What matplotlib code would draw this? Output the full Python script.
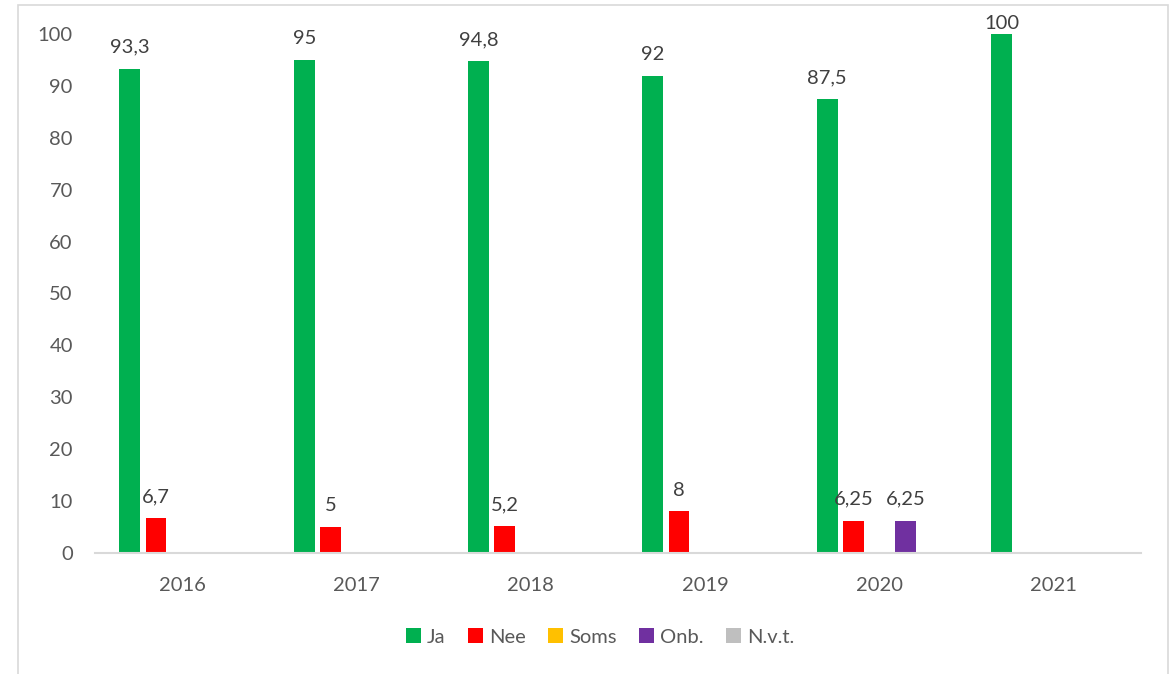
import matplotlib
matplotlib.use("Agg")
import matplotlib.pyplot as plt
from matplotlib.patches import Rectangle
import numpy as np

# data
years = ["2016", "2017", "2018", "2019", "2020", "2021"]
series = ["Ja", "Nee", "Soms", "Onb.", "N.v.t."]
ja = [93.3, 95, 94.8, 92, 87.5, 100]
nee = [6.7, 5, 5.2, 8, 6.25, 0]
soms = [0, 0, 0, 0, 0, 0]
onb = [0, 0, 0, 0, 6.25, 0]
nvt = [0, 0, 0, 0, 0, 0]
colors = ["#00b050", "#ff0000", "#ffc000", "#7030a0", "#bfbfbf"]

plt.rcParams['font.family'] = ['Lato', 'DejaVu Sans']

fig = plt.figure(figsize=(11.71, 6.74), dpi=100)
W, H = 1171, 674
ax = fig.add_axes([95 / W, 1 - 553 / H, (1141 - 95) / W, (553 - 34) / H])

x = np.arange(len(years))
step = 0.15
width = 0.12
fs = 14.5
for i, (name, vals) in enumerate(zip(series, [ja, nee, soms, onb, nvt])):
    pos = x + (i - 2) * step
    ax.bar(pos, vals, width, color=colors[i], label=name, zorder=2)
    for p, v in zip(pos, vals):
        if v > 0:
            txt = ("%g" % v).replace(".", ",")
            ax.text(p, min(v + 2.5, 100.4), txt, ha="center", va="bottom",
                    fontsize=fs, color="#404040", zorder=3)

ax.set_xlim(-0.5, len(years) - 0.5)
ax.set_ylim(0, 100)
ax.set_yticks(range(0, 101, 10))
ax.set_xticks(x)
ax.set_xticklabels(years)
ax.tick_params(axis="both", length=0, labelsize=fs, colors="#595959")
ax.tick_params(axis="x", pad=17)
ax.tick_params(axis="y", pad=16)
for s in ["top", "right", "left"]:
    ax.spines[s].set_visible(False)
ax.spines["bottom"].set_color("#d9d9d9")
ax.spines["bottom"].set_linewidth(1.5)

leg = ax.legend(loc="center", bbox_to_anchor=((600 - 95) / 1046, (553 - 637) / (553 - 34)),
                ncol=5, frameon=False, fontsize=fs, handlelength=0.75,
                handleheight=0.75, handletextpad=0.3, columnspacing=1.1)
for t in leg.get_texts():
    t.set_color("#595959")

fig.patches.append(Rectangle((18 / W, -0.01), (1168 - 18) / W, 1 - 5 / H + 0.01,
                             transform=fig.transFigure, fill=False,
                             edgecolor="#d9d9d9", linewidth=1.2))

fig.savefig("out.png", dpi=100)
